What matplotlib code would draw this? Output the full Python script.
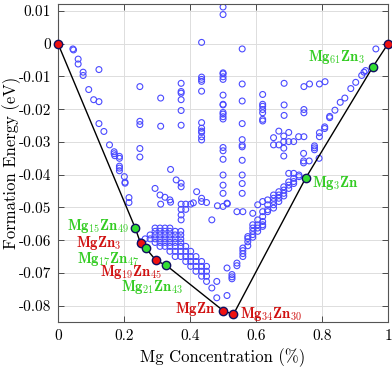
import numpy as np
import matplotlib
matplotlib.use("Agg")
from matplotlib import pyplot as plt

plt.rcParams['font.family'] = 'serif'
plt.rcParams['font.serif'] = ['cmr10', 'DejaVu Serif']
plt.rcParams['mathtext.fontset'] = 'cm'
plt.rcParams['axes.unicode_minus'] = False

# all computed structures (Mg fraction, formation energy in eV)
left_branch = [(0.045, -0.0016), (0.047, -0.0019), (0.061, -0.0047), (0.061, -0.0062),
               (0.076, -0.0087), (0.076, -0.0097), (0.124, -0.0079), (0.093, -0.0140),
               (0.108, -0.0171), (0.124, -0.0177), (0.124, -0.0244), (0.139, -0.0268),
               (0.156, -0.0309), (0.170, -0.0330), (0.170, -0.0336), (0.172, -0.0342),
               (0.186, -0.0344), (0.186, -0.0350), (0.186, -0.0374), (0.186, -0.0380),
               (0.186, -0.0388), (0.201, -0.0406), (0.203, -0.0423), (0.203, -0.0426),
               (0.215, -0.0470), (0.215, -0.0485), (0.250, -0.0605), (0.264, -0.0596)]

columns = {
    0.248: [-0.0131, -0.0237, -0.0247, -0.0320, -0.0346],
    0.311: [-0.0166, -0.0252, -0.0490],
    0.373: [-0.0121, -0.0146, -0.0151, -0.0171, -0.0204, -0.0249, -0.0426, -0.0437,
            -0.0490, -0.0506, -0.0523, -0.0538],
    0.435: [0.0004, -0.0102, -0.0109, -0.0115, -0.0145, -0.0241, -0.0258, -0.0267,
            -0.0271, -0.0284, -0.0294, -0.0472, -0.0482],
    0.500: [0.0112, 0.0089, -0.0089, -0.0092, -0.0101, -0.0109, -0.0157, -0.0185,
            -0.0187, -0.0210, -0.0215, -0.0223, -0.0230, -0.0317, -0.0327, -0.0353,
            -0.0401, -0.0432, -0.0457, -0.0497],
    0.558: [-0.0016, -0.0123, -0.0175, -0.0244, -0.0293, -0.0310, -0.0315, -0.0356,
            -0.0401, -0.0427, -0.0457],
    0.620: [-0.0155, -0.0185, -0.0191, -0.0201, -0.0211, -0.0231, -0.0236],
    0.685: [-0.0121, -0.0187, -0.0219],
    0.745: [-0.0131, -0.0201, -0.0211],
}

scattered = [(0.341, -0.0384), (0.358, -0.0416), (0.294, -0.0442), (0.309, -0.0462),
             (0.324, -0.0469), (0.339, -0.0477), (0.341, -0.0484), (0.387, -0.0490),
             (0.387, -0.0506), (0.402, -0.0490), (0.420, -0.0452), (0.410, -0.0486),
             (0.450, -0.0485), (0.483, -0.0495), (0.466, -0.0538), (0.513, -0.0489),
             (0.762, -0.0123), (0.792, -0.0123), (0.809, -0.0116),
             (0.669, -0.0267), (0.653, -0.0287), (0.684, -0.0282), (0.699, -0.0271),
             (0.729, -0.0284), (0.745, -0.0284), (0.653, -0.0309), (0.669, -0.0309),
             (0.684, -0.0299), (0.699, -0.0299), (0.714, -0.0299), (0.684, -0.0319),
             (0.684, -0.0343), (0.744, -0.0335), (0.744, -0.0358), (0.761, -0.0358),
             (0.791, -0.0350), (0.466, -0.0746), (0.481, -0.0726), (0.481, -0.0776)]

# dense group between Mg15Zn49 and MgZn
cluster = {
    0.279: [-0.0584, -0.0596],
    0.294: [-0.0563, -0.0573, -0.0584, -0.0596, -0.0607],
    0.309: [-0.0563, -0.0573, -0.0584, -0.0596, -0.0607, -0.0619],
    0.324: [-0.0563, -0.0573, -0.0584, -0.0596, -0.0607, -0.0619],
    0.339: [-0.0563, -0.0573, -0.0584, -0.0596, -0.0607, -0.0619, -0.0634],
    0.355: [-0.0573, -0.0584, -0.0596, -0.0607, -0.0619, -0.0634, -0.0650],
    0.372: [-0.0573, -0.0584, -0.0596, -0.0607, -0.0619, -0.0634, -0.0650],
    0.387: [-0.0619, -0.0634, -0.0650, -0.0665],
    0.402: [-0.0634, -0.0650, -0.0665, -0.0680],
    0.418: [-0.0650, -0.0665, -0.0680, -0.0695],
    0.435: [-0.0665, -0.0680, -0.0695, -0.0710],
    0.450: [-0.0680, -0.0695, -0.0710, -0.0726],
}

# rising band from Mg34Zn30 up to Mg3Zn
band = {
    0.512: [-0.0487, -0.0685, -0.0769],
    0.527: [-0.0705, -0.0712, -0.0718],
    0.542: [-0.0513, -0.0670, -0.0678],
    0.560: [-0.0513, -0.0624, -0.0632, -0.0641, -0.0650],
    0.575: [-0.0589, -0.0595, -0.0605, -0.0617],
    0.590: [-0.0518, -0.0553, -0.0563, -0.0573, -0.0583, -0.0591],
    0.605: [-0.0492, -0.0538, -0.0553, -0.0563, -0.0573],
    0.620: [-0.0482, -0.0513, -0.0528, -0.0543, -0.0553, -0.0558],
    0.635: [-0.0477, -0.0492, -0.0507, -0.0513],
    0.653: [-0.0462, -0.0472, -0.0482, -0.0492, -0.0502],
    0.669: [-0.0452, -0.0462, -0.0472, -0.0482],
    0.684: [-0.0437, -0.0447, -0.0457, -0.0465],
    0.699: [-0.0396, -0.0422, -0.0432, -0.0442],
    0.714: [-0.0396, -0.0411, -0.0421, -0.0427],
    0.730: [-0.0401, -0.0406],
    0.744: [-0.0364],
}

right_branch = [(0.963, -0.0016), (0.932, -0.0082), (0.927, -0.0087), (0.920, -0.0097),
                (0.902, -0.0118), (0.887, -0.0137), (0.869, -0.0166), (0.855, -0.0179),
                (0.839, -0.0203), (0.823, -0.0222), (0.823, -0.0226), (0.808, -0.0254),
                (0.808, -0.0259), (0.792, -0.0272), (0.792, -0.0284), (0.777, -0.0312),
                (0.777, -0.0318), (0.777, -0.0324)]

# convex hull phases
hull_x = [0, 15/64, 0.25, 17/64, 19/64, 21/64, 0.5, 34/64, 0.75, 61/64, 1]
hull_e = [0, -0.0564, -0.0609, -0.0624, -0.0662, -0.0677, -0.0815, -0.0827, -0.0411, -0.0072, 0]
hull_names = ['', 'Mg_{15}Zn_{49}', 'MgZn_3', 'Mg_{17}Zn_{47}', 'Mg_{19}Zn_{45}',
              'Mg_{21}Zn_{43}', 'MgZn', 'Mg_{34}Zn_{30}', 'Mg_3Zn', 'Mg_{61}Zn_3', '']
hull_kind = ['r', 'g', 'r', 'g', 'r', 'g', 'r', 'r', 'g', 'g', 'r']

pts = list(left_branch) + list(scattered) + list(right_branch)
for d in (columns, cluster, band):
    for c, es in d.items():
        pts += [(c, e) for e in es]
px, py = np.array(pts).T

fig = plt.figure(figsize=(3.92, 3.71), dpi=100)
ax = fig.add_axes([0.148, 0.132, 0.842, 0.857])

ax.scatter(px, py, s=18, facecolors='none', edgecolors='#4a4aff', linewidths=0.8, zorder=2)
ax.plot(hull_x, hull_e, color='black', lw=1.0, zorder=3)

fill = {'r': '#ee1111', 'g': '#33dd33'}
txtc = {'r': '#d01010', 'g': '#33cc22'}
for x, e, k in zip(hull_x, hull_e, hull_kind):
    ax.plot(x, e, 'o', ms=6, mfc=fill[k], mec='#101060', mew=1.0, zorder=4, clip_on=False)

# label offsets in points (dx, dy, ha)
offs = [None, (-4.5, 2, 'right'), (-14, 0, 'right'), (-4, -8, 'right'), (4.3, -8.2, 'right'),
        (12, -15.5, 'right'), (-5.8, 1, 'right'), (4.8, 0, 'left'), (4.7, -3.4, 'left'),
        (-5.4, 7.4, 'right'), None]
for x, e, n, k, o in zip(hull_x, hull_e, hull_names, hull_kind, offs):
    if o is None:
        continue
    ax.annotate(r'$\mathbf{' + n + '}$', (x, e), xytext=(o[0], o[1]), textcoords='offset points',
                ha=o[2], va='center', color=txtc[k], fontsize=10.5, zorder=5)

ax.set_xlim(0, 1)
ax.set_ylim(-0.085, 0.0121)
xt = [0, 0.2, 0.4, 0.6, 0.8, 1]
yt = [0.01, 0, -0.01, -0.02, -0.03, -0.04, -0.05, -0.06, -0.07, -0.08]
ax.set_xticks(xt)
ax.set_xticklabels(['0', '0.2', '0.4', '0.6', '0.8', '1'])
ax.set_yticks(yt)
ax.set_yticklabels(['%g' % v for v in yt])
ax.tick_params(direction='in', top=True, right=True, labelsize=11, length=4, width=0.6,
               color='#333333', pad=5)
ax.grid(True, color='#dddddd', lw=0.7, zorder=0)
ax.set_axisbelow(True)
for s in ax.spines.values():
    s.set_color('#555555')
    s.set_linewidth(0.8)
ax.set_xlabel('Mg Concentration (%)', fontsize=12, labelpad=4)
ax.set_ylabel('Formation Energy (eV)', fontsize=12)
ax.yaxis.set_label_coords(-0.112, 0.5)

plt.savefig('out.png', dpi=100)
